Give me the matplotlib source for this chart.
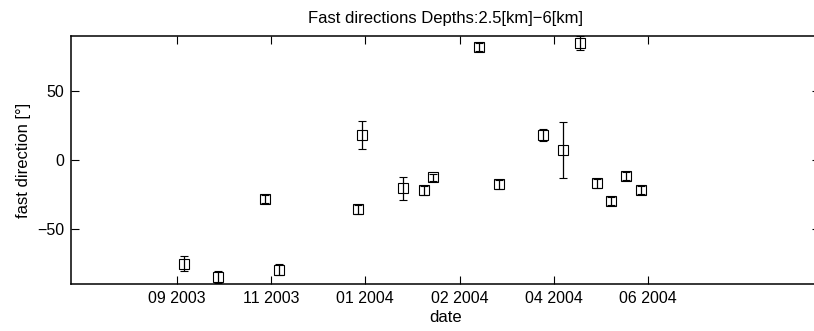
#!/usr/bin/env python3
# fast_directions.py

import datetime as dt
import matplotlib
matplotlib.use("Agg")
import matplotlib.pyplot as plt
import matplotlib.dates as mdates

# measurement dates, fast directions [deg] and their errors
dates = ["2003-09-30", "2003-10-18", "2003-11-12", "2003-11-19", "2003-12-31",
         "2004-01-02", "2004-01-24", "2004-02-04", "2004-02-09", "2004-03-04",
         "2004-03-15", "2004-04-07", "2004-04-18", "2004-04-27", "2004-05-06",
         "2004-05-13", "2004-05-21", "2004-05-29"]
fast_dir = [-75.2, -85.0, -28.2, -79.6, -35.9, 18.2, -20.6, -21.9, -12.6, 81.8,
            -17.7, 18.2, 7.3, 85.0, -17.0, -29.9, -11.7, -21.9]
fast_err = [5.6, 4.2, 2.8, 4.2, 3.2, 10.4, 8.2, 3.2, 2.8, 3.0,
            3.0, 4.6, 20.6, 5.2, 3.2, 3.0, 2.8, 3.0]

# matlab style date ticks: every 50 days
tick_start = dt.date(2003, 9, 26)
tick_step = 50
n_ticks = 6
x_start = dt.date(2003, 8, 1)
x_end = dt.date(2004, 9, 1)


def main():
    plt.rcParams["font.family"] = ["Liberation Sans", "DejaVu Sans"]
    x = [dt.datetime.strptime(d, "%Y-%m-%d") for d in dates]

    fig = plt.figure(figsize=(8.14, 3.31), dpi=100)
    ax = fig.add_axes([71 / 814, 47 / 331, 749 / 814, 248 / 331])

    ax.errorbar(x, fast_dir, yerr=fast_err, fmt="s", color="black",
                mfc="none", mec="black", ms=6.5, mew=0.8,
                elinewidth=0.9, capsize=2.9, capthick=0.9)

    ticks = [tick_start + dt.timedelta(days=tick_step * k) for k in range(n_ticks)]
    ax.set_xticks(ticks)
    ax.xaxis.set_major_formatter(mdates.DateFormatter("%m %Y"))
    ax.set_xlim(x_start, x_end)
    ax.set_ylim(-90, 90)
    ax.set_yticks([-50, 0, 50])

    ax.tick_params(direction="in", length=6, width=0.8, labelsize=11.5,
                   top=True, right=True, pad=5)
    for sp in ax.spines.values():
        sp.set_linewidth(1.1)

    ax.set_title("Fast directions Depths:2.5[km]\u22126[km]", fontsize=12, pad=9)
    ax.set_xlabel("date", fontsize=12, labelpad=3)
    ax.set_ylabel("fast direction [\u00b0]", fontsize=12, labelpad=4)

    fig.savefig("out.png", dpi=100)


if __name__ == "__main__":
    main()
